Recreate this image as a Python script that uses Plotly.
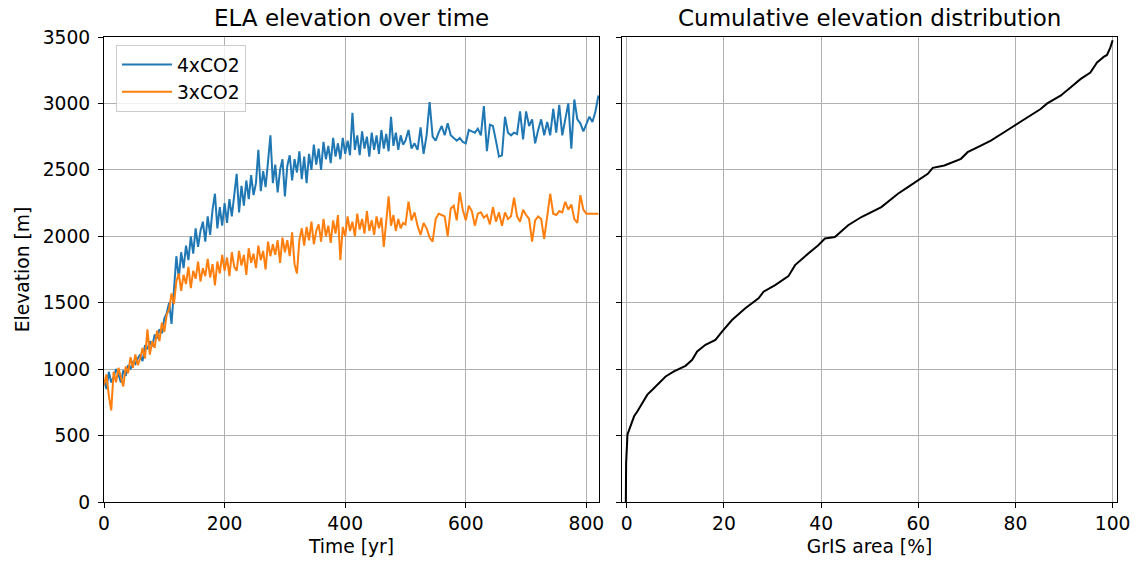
import plotly.graph_objects as go

# ---- data ----
# dense part: every 4 years from 0 to 496
t_dense = list(range(0, 500, 4))
# sparse part: every 5 years from 500 to 820
t_sparse = list(range(500, 821, 5))
time_yr = t_dense + t_sparse

ela_4x_dense = [
    920, 850, 980, 900, 940, 1000, 960, 900, 990, 950,
    1030, 1000, 1060, 1040, 1080, 1110, 1060, 1180, 1150, 1210,
    1170, 1260, 1230, 1300, 1270, 1380, 1420, 1500, 1340, 1600,
    1850, 1680, 1880, 1760, 1930, 1820, 2000, 1870, 2060, 1920,
    2040, 2110, 1960, 2150, 2010, 2200, 2320, 2060, 2220, 2080,
    2250, 2100, 2280, 2150, 2330, 2470, 2180, 2380, 2230, 2420,
    2280, 2460, 2310, 2400, 2650, 2340, 2490, 2370, 2560, 2760,
    2400, 2540, 2330, 2500, 2580, 2300, 2530, 2610, 2420, 2580,
    2480, 2640, 2430, 2600, 2400, 2620, 2500, 2690, 2540, 2660,
    2500, 2710, 2580, 2680, 2550, 2740, 2600, 2700, 2580, 2740,
    2620, 2720, 2610, 2930, 2650, 2760, 2610, 2790, 2660, 2750,
    2600, 2780, 2650, 2760, 2620, 2800, 2660, 2770, 2640, 2900,
    2680, 2780, 2650, 2760, 2690,
]
ela_4x_sparse = [
    2720, 2800, 2660, 2700, 2650, 2820, 2620, 2760, 3010, 2750,
    2720, 2780, 2830, 2760, 2850, 2760, 2740, 2720, 2740, 2710,
    2700, 2800, 2790, 2780, 2810, 2760, 2980, 2640, 2840, 2830,
    2720, 2600, 2610, 2900, 2780, 2760, 2780, 2770, 2940, 2730,
    2940, 2830, 2880, 2700, 2800, 2880, 2760, 2860, 2760, 2960,
    2780, 2990, 2760, 2880, 3000, 2660, 3030, 2880, 2850, 2790,
    2850, 2900, 2860, 2940, 3060,
]

ela_3x_dense = [
    880, 960, 800, 690, 980, 900, 1010, 930, 870, 1020,
    970, 1090, 1010, 1110, 1030, 1080, 1160, 1080, 1300, 1110,
    1210, 1160, 1290, 1210, 1350, 1280, 1410, 1450, 1570, 1490,
    1660, 1720, 1590, 1710, 1640, 1770, 1610, 1740, 1680, 1810,
    1660, 1760, 1700, 1830, 1690, 1790, 1630, 1810, 1720, 1860,
    1740, 1840, 1700, 1880, 1770, 1740, 1890, 1780, 1860, 1710,
    1910, 1800, 1870, 1760, 1930, 1820, 1890, 1750, 1960, 1850,
    1940, 1860, 1970, 1800, 1990, 1880, 1970, 1850, 2030, 1790,
    1720, 1970, 2060, 1930, 2070, 1970, 2110, 1940, 2040, 2090,
    1960, 2130, 2000, 2080, 1950, 2120, 2020, 2160, 1820, 2070,
    2000, 2150, 2040, 2110, 2000, 2170, 2050, 2130, 2020, 2190,
    2040, 2120, 2010, 2150, 2060, 2140, 1920, 2110, 2300, 2080,
    2160, 2040, 2130, 2060, 2100,
]
ela_3x_sparse = [
    2090, 2260, 2120, 2180, 2080, 2010, 2100, 2060, 1990, 1960,
    2130, 2170, 2160, 2150, 2000, 2210, 2230, 2120, 2330, 2200,
    2120, 2230, 2190, 2080, 2170, 2180, 2140, 2160, 2090, 2220,
    2110, 2180, 2080, 2180, 2130, 2150, 2290, 2150, 2110, 2200,
    2160, 2130, 1960, 2120, 2150, 2130, 1980, 2160, 2320, 2170,
    2160, 2190, 2180, 2260, 2200, 2240, 2130, 2100, 2310, 2200,
    2170, 2170, 2170, 2170, 2170,
]
ela_4x = ela_4x_dense + ela_4x_sparse
ela_3x = ela_3x_dense + ela_3x_sparse

# cumulative elevation distribution
area_pct = [
    -0.2, -0.14, 0.14, 0.82, 1.50, 2.19, 3.21, 4.23, 5.26, 6.63,
    7.99, 9.70, 12.09, 13.46, 14.48, 16.19, 18.24, 19.60, 21.65, 24.39,
    27.12, 28.14, 30.53, 33.27, 34.63, 37.36, 39.41, 40.78, 42.83, 45.56,
    48.29, 52.39, 55.81, 57.86, 59.90, 61.95, 62.98, 65.37, 68.78, 70.15,
    72.88, 74.93, 77.66, 80.05, 82.45, 85.18, 86.54, 89.28, 91.33, 93.37,
    95.42, 96.79, 98.16, 98.84, 99.52, 100.0,
]
elev_cum = [
    0, 295, 508, 570, 645, 683, 745, 808, 845, 895,
    945, 983, 1025, 1070, 1133, 1183, 1220, 1283, 1370, 1458,
    1533, 1583, 1633, 1700, 1783, 1870, 1933, 1983, 1995, 2083,
    2145, 2220, 2320, 2370, 2420, 2470, 2515, 2533, 2583, 2633,
    2683, 2720, 2783, 2840, 2895, 2958, 3000, 3058, 3120, 3183,
    3233, 3308, 3350, 3365, 3420, 3475,
]

x_ticks_left = [0, 200, 400, 600, 800]
x_ticks_right = [0, 20, 40, 60, 80, 100]
y_ticks = [0, 500, 1000, 1500, 2000, 2500, 3000, 3500]

FONT = "DejaVu Sans"
FS = 18.7
fig = go.Figure()
fig.add_trace(go.Scatter(x=time_yr, y=ela_4x, mode="lines", name="4xCO2",
                         line=dict(color="#1f77b4", width=2), xaxis="x", yaxis="y"))
fig.add_trace(go.Scatter(x=time_yr, y=ela_3x, mode="lines", name="3xCO2",
                         line=dict(color="#ff7f0e", width=2), xaxis="x", yaxis="y"))
fig.add_trace(go.Scatter(x=area_pct, y=elev_cum, mode="lines", showlegend=False,
                         line=dict(color="black", width=2), xaxis="x2", yaxis="y2"))

axis_common = dict(showline=True, mirror=True, linecolor="black", linewidth=1,
                   ticks="outside", ticklen=5, tickwidth=1, tickcolor="black",
                   showgrid=True, gridcolor="#b0b0b0", gridwidth=1, zeroline=False,
                   tickfont=dict(family=FONT, size=FS, color="black"))

fig.update_layout(
    width=1142, height=567,
    margin=dict(l=104, r=19, t=37, b=65),
    paper_bgcolor="white", plot_bgcolor="white",
    font=dict(family=FONT, size=FS, color="black"),
    xaxis=dict(domain=[0, 0.4887], range=[0, 821], tickvals=x_ticks_left,
               title=dict(text="Time [yr]", font=dict(family=FONT, size=FS), standoff=6),
               **axis_common),
    yaxis=dict(range=[0, 3500], tickvals=y_ticks, ticklabelstandoff=4,
               title=dict(text="Elevation [m]", font=dict(family=FONT, size=FS), standoff=8),
               **axis_common),
    xaxis2=dict(domain=[0.5113, 1], range=[-1.0, 100.9], tickvals=x_ticks_right,
                anchor="y2",
                title=dict(text="GrIS area [%]", font=dict(family=FONT, size=FS), standoff=6),
                **axis_common),
    yaxis2=dict(range=[0, 3500], tickvals=y_ticks, anchor="x2", matches="y",
                showticklabels=False, **axis_common),
    legend=dict(x=0.0118, y=0.983, xanchor="left", yanchor="top",
                bgcolor="rgba(255,255,255,0.8)", bordercolor="#cccccc", borderwidth=1,
                font=dict(family=FONT, size=FS, color="black"), itemwidth=50),
    annotations=[
        dict(text="ELA elevation over time", x=0.2443, y=1, xref="paper", yref="paper",
             xanchor="center", yanchor="bottom", yshift=4, showarrow=False,
             font=dict(family=FONT, size=23, color="black")),
        dict(text="Cumulative elevation distribution", x=0.7556, y=1, xref="paper", yref="paper",
             xanchor="center", yanchor="bottom", yshift=4, showarrow=False,
             font=dict(family=FONT, size=23, color="black")),
    ],
)

fig.write_html("out.html")
